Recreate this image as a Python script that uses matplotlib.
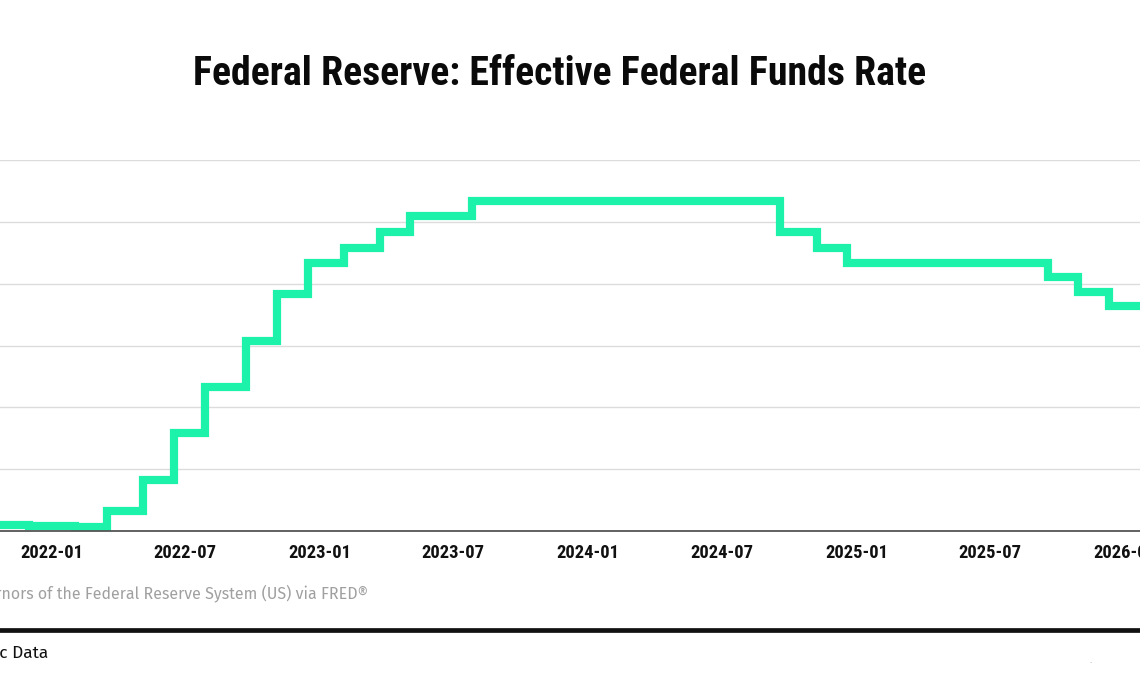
import matplotlib
matplotlib.use("Agg")
import matplotlib.pyplot as plt
import matplotlib.dates as mdates
from matplotlib.lines import Line2D
import numpy as np
import datetime as dt

# ---- data: effective federal funds rate, step changes (date, percent) ----
step_dates = ["2021-10-22", "2021-12-01", "2022-02-01", "2022-03-17", "2022-05-05",
              "2022-06-16", "2022-07-28", "2022-09-22", "2022-11-03", "2022-12-15",
              "2023-02-02", "2023-03-23", "2023-05-04", "2023-07-27", "2024-09-19",
              "2024-11-08", "2024-12-19", "2025-09-18", "2025-10-30", "2025-12-11",
              "2026-01-22"]
step_values = [0.09, 0.08, 0.07, 0.33, 0.83,
               1.58, 2.33, 3.08, 3.83, 4.33,
               4.58, 4.83, 5.09, 5.33, 4.83,
               4.58, 4.33, 4.11, 3.87, 3.64,
               3.64]
y_ticks = [0, 1, 2, 3, 4, 5, 6]

title = "Federal Reserve: Effective Federal Funds Rate"
source = "Source: Board of Governors of the Federal Reserve System (US) via FRED®"
footer = "FRED: Federal Reserve Economic Data"

LINE = "#1CF2AA"
FAM = "Roboto Condensed"
W, H = 1140, 675

fig = plt.figure(figsize=(W / 100, H / 100), dpi=100)
fig.patch.set_facecolor("white")

ax_bottom = (H - 531) / H
ax_top = (H - 160) / H
ax = fig.add_axes([0, ax_bottom, 1, ax_top - ax_bottom])

dates = np.array([np.datetime64(d) for d in step_dates])
ax.plot(dates.astype("datetime64[D]").astype(object), step_values,
        drawstyle="steps-post", color=LINE, lw=5.9,
        solid_joinstyle="miter", solid_capstyle="butt", zorder=3, clip_on=False)

ax.set_xlim(dt.date(2021, 10, 22), dt.date(2026, 1, 22))
ax.set_ylim(0, 6)
ax.set_yticks(y_ticks)
ax.yaxis.grid(True, color="#dcdcdc", lw=1.0)
ax.set_axisbelow(True)
ax.tick_params(axis="y", left=False, labelleft=False)
for s in ["top", "left", "right"]:
    ax.spines[s].set_visible(False)
ax.spines["bottom"].set_color("#555555")
ax.spines["bottom"].set_linewidth(1.3)
ax.spines["bottom"].set_zorder(4)

ax.xaxis.set_major_locator(mdates.MonthLocator(bymonth=[1, 7]))
ax.xaxis.set_major_formatter(mdates.DateFormatter("%Y-%m"))
ax.tick_params(axis="x", length=0, pad=9)
for lab in ax.get_xticklabels():
    lab.set_fontfamily(FAM)
    lab.set_fontweight("bold")
    lab.set_fontsize(13.3)
    lab.set_color("#111111")

# title, sized to the reference width
t = fig.text(559.5 / W, (H - 85) / H, title, ha="center", va="baseline",
             fontfamily=FAM, fontweight="bold", fontsize=30, color="#0a0a0a")
fig.canvas.draw()
r = fig.canvas.get_renderer()
t.set_fontsize(30 * 735 / t.get_window_extent(r).width)

# source and footer
fig.text(368 / W, (H - 593) / H, source, ha="right", va="center",
         fontfamily="Fira Sans", fontsize=11.5, color="#a0a0a0")
fig.text(48 / W, (H - 653) / H, footer, ha="right", va="center",
         fontfamily="Fira Sans", fontsize=12.5, color="#111111")

fig.add_artist(Line2D([0, 1], [(H - 629.5) / H] * 2, transform=fig.transFigure,
                      color="#111111", lw=3.4))
fig.text(1090 / W, (H - 663) / H, "·", ha="center", va="center",
         fontsize=5, color="#999999")

fig.savefig("out.png", dpi=100, facecolor="white")
